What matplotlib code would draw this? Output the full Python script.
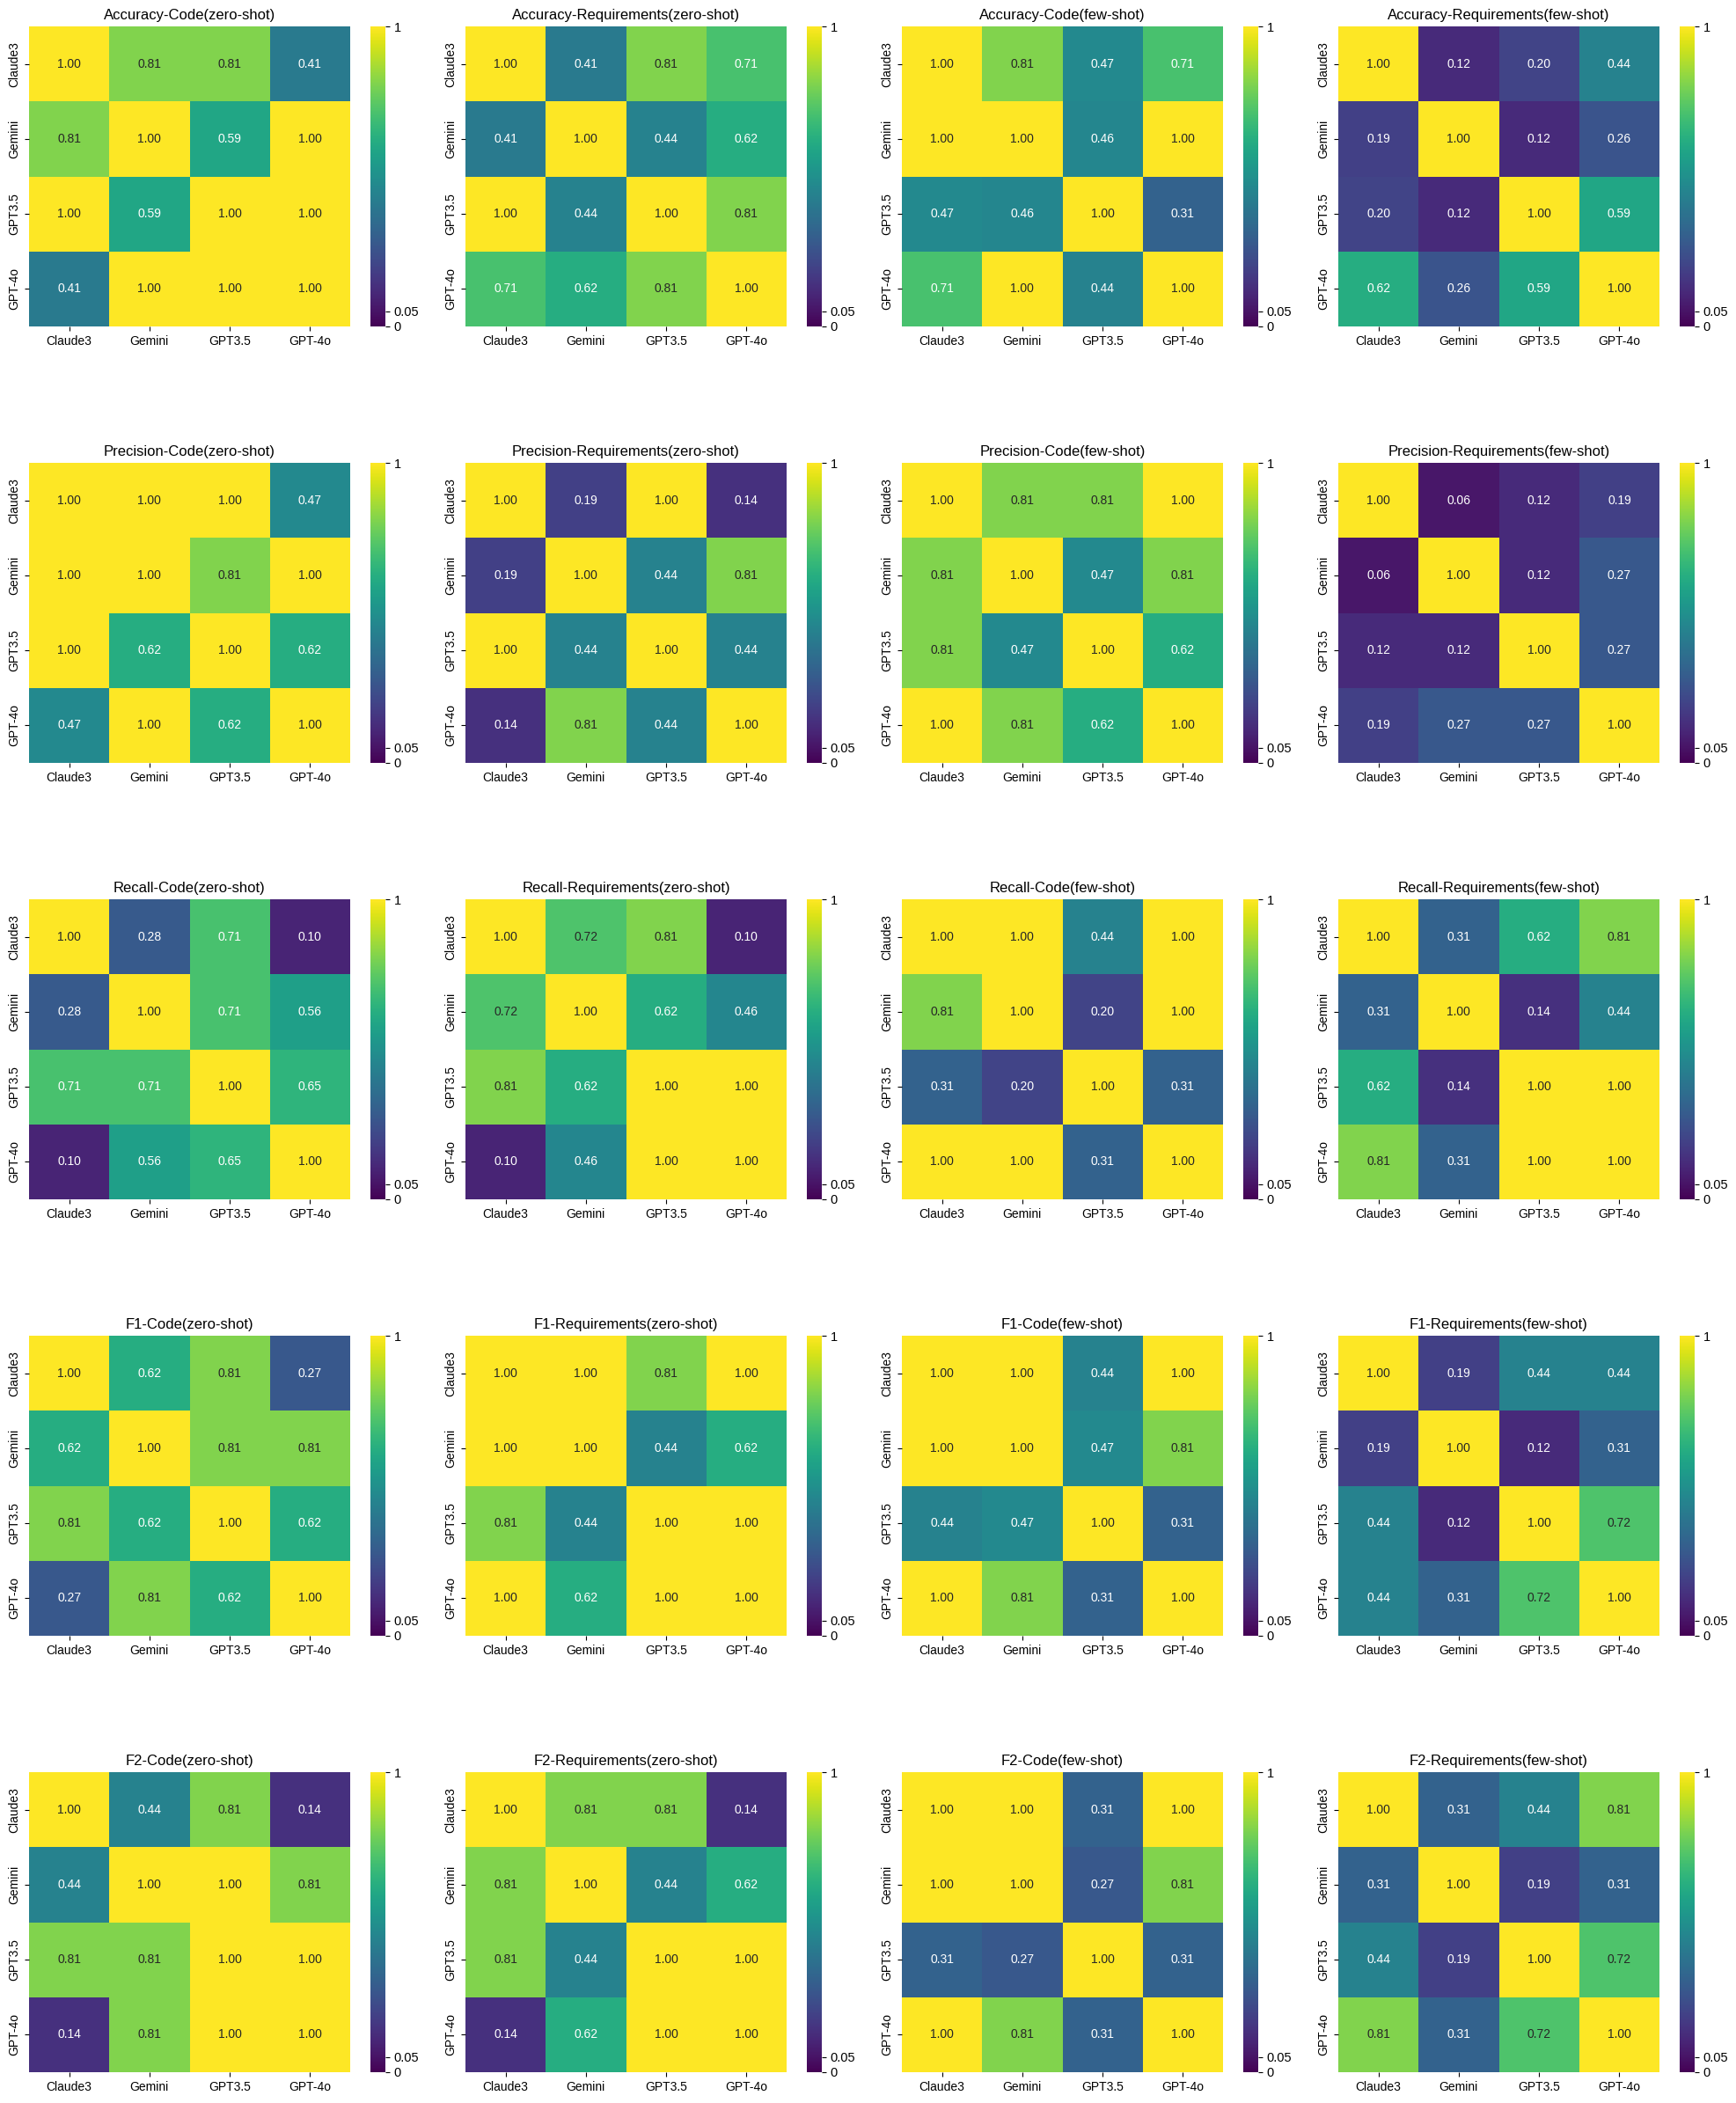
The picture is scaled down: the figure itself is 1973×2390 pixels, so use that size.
import numpy as np
import matplotlib
matplotlib.use('Agg')
import matplotlib.pyplot as plt
import seaborn as sns

plt.rcParams['font.family'] = ['Liberation Sans', 'DejaVu Sans']

models = ['Claude3', 'Gemini', 'GPT3.5', 'GPT-4o']
metrics = ['Accuracy', 'Precision', 'Recall', 'F1', 'F2']
settings = ['Code(zero-shot)', 'Requirements(zero-shot)', 'Code(few-shot)', 'Requirements(few-shot)']

# Accuracy
acc_code_zero = [[1.00, 0.81, 0.81, 0.41], [0.81, 1.00, 0.59, 1.00], [1.00, 0.59, 1.00, 1.00], [0.41, 1.00, 1.00, 1.00]]
acc_req_zero = [[1.00, 0.41, 0.81, 0.71], [0.41, 1.00, 0.44, 0.62], [1.00, 0.44, 1.00, 0.81], [0.71, 0.62, 0.81, 1.00]]
acc_code_few = [[1.00, 0.81, 0.47, 0.71], [1.00, 1.00, 0.46, 1.00], [0.47, 0.46, 1.00, 0.31], [0.71, 1.00, 0.44, 1.00]]
acc_req_few = [[1.00, 0.12, 0.20, 0.44], [0.19, 1.00, 0.12, 0.26], [0.20, 0.12, 1.00, 0.59], [0.62, 0.26, 0.59, 1.00]]

# Precision
prec_code_zero = [[1.00, 1.00, 1.00, 0.47], [1.00, 1.00, 0.81, 1.00], [1.00, 0.62, 1.00, 0.62], [0.47, 1.00, 0.62, 1.00]]
prec_req_zero = [[1.00, 0.19, 1.00, 0.14], [0.19, 1.00, 0.44, 0.81], [1.00, 0.44, 1.00, 0.44], [0.14, 0.81, 0.44, 1.00]]
prec_code_few = [[1.00, 0.81, 0.81, 1.00], [0.81, 1.00, 0.47, 0.81], [0.81, 0.47, 1.00, 0.62], [1.00, 0.81, 0.62, 1.00]]
prec_req_few = [[1.00, 0.06, 0.12, 0.19], [0.06, 1.00, 0.12, 0.27], [0.12, 0.12, 1.00, 0.27], [0.19, 0.27, 0.27, 1.00]]

# Recall
rec_code_zero = [[1.00, 0.28, 0.71, 0.10], [0.28, 1.00, 0.71, 0.56], [0.71, 0.71, 1.00, 0.65], [0.10, 0.56, 0.65, 1.00]]
rec_req_zero = [[1.00, 0.72, 0.81, 0.10], [0.72, 1.00, 0.62, 0.46], [0.81, 0.62, 1.00, 1.00], [0.10, 0.46, 1.00, 1.00]]
rec_code_few = [[1.00, 1.00, 0.44, 1.00], [0.81, 1.00, 0.20, 1.00], [0.31, 0.20, 1.00, 0.31], [1.00, 1.00, 0.31, 1.00]]
rec_req_few = [[1.00, 0.31, 0.62, 0.81], [0.31, 1.00, 0.14, 0.44], [0.62, 0.14, 1.00, 1.00], [0.81, 0.31, 1.00, 1.00]]

# F1
f1_code_zero = [[1.00, 0.62, 0.81, 0.27], [0.62, 1.00, 0.81, 0.81], [0.81, 0.62, 1.00, 0.62], [0.27, 0.81, 0.62, 1.00]]
f1_req_zero = [[1.00, 1.00, 0.81, 1.00], [1.00, 1.00, 0.44, 0.62], [0.81, 0.44, 1.00, 1.00], [1.00, 0.62, 1.00, 1.00]]
f1_code_few = [[1.00, 1.00, 0.44, 1.00], [1.00, 1.00, 0.47, 0.81], [0.44, 0.47, 1.00, 0.31], [1.00, 0.81, 0.31, 1.00]]
f1_req_few = [[1.00, 0.19, 0.44, 0.44], [0.19, 1.00, 0.12, 0.31], [0.44, 0.12, 1.00, 0.72], [0.44, 0.31, 0.72, 1.00]]

# F2
f2_code_zero = [[1.00, 0.44, 0.81, 0.14], [0.44, 1.00, 1.00, 0.81], [0.81, 0.81, 1.00, 1.00], [0.14, 0.81, 1.00, 1.00]]
f2_req_zero = [[1.00, 0.81, 0.81, 0.14], [0.81, 1.00, 0.44, 0.62], [0.81, 0.44, 1.00, 1.00], [0.14, 0.62, 1.00, 1.00]]
f2_code_few = [[1.00, 1.00, 0.31, 1.00], [1.00, 1.00, 0.27, 0.81], [0.31, 0.27, 1.00, 0.31], [1.00, 0.81, 0.31, 1.00]]
f2_req_few = [[1.00, 0.31, 0.44, 0.81], [0.31, 1.00, 0.19, 0.31], [0.44, 0.19, 1.00, 0.72], [0.81, 0.31, 0.72, 1.00]]

grid = [
    [acc_code_zero, acc_req_zero, acc_code_few, acc_req_few],
    [prec_code_zero, prec_req_zero, prec_code_few, prec_req_few],
    [rec_code_zero, rec_req_zero, rec_code_few, rec_req_few],
    [f1_code_zero, f1_req_zero, f1_code_few, f1_req_few],
    [f2_code_zero, f2_req_zero, f2_code_few, f2_req_few],
]

W, H = 1973, 2390
fig = plt.figure(figsize=(W / 100, H / 100), dpi=100)

# layout in pixels
pitch = 496
hm_w, hm_h = 365, 341
x0, y0 = 33, 30
cb_x0, cb_w = 421, 17

for r, metric in enumerate(metrics):
    for c, setting in enumerate(settings):
        left = x0 + pitch * c
        top = y0 + pitch * r
        ax = fig.add_axes([left / W, 1 - (top + hm_h) / H, hm_w / W, hm_h / H])
        cax = fig.add_axes([(cb_x0 + pitch * c) / W, 1 - (top + hm_h) / H, cb_w / W, hm_h / H])
        sns.heatmap(np.array(grid[r][c]), ax=ax, cbar_ax=cax, cmap='viridis', vmin=0, vmax=1,
                    annot=True, fmt='.2f', annot_kws={'fontsize': 10},
                    xticklabels=models, yticklabels=models)
        ax.set_title(f'{metric}-{setting}', fontsize=12)
        ax.tick_params(labelsize=10)
        cax.set_yticks([0, 0.05, 1])
        cax.set_yticklabels(['0', '0.05', '1'])
        cax.tick_params(labelsize=10.5)

fig.savefig('out.png', dpi=100)
